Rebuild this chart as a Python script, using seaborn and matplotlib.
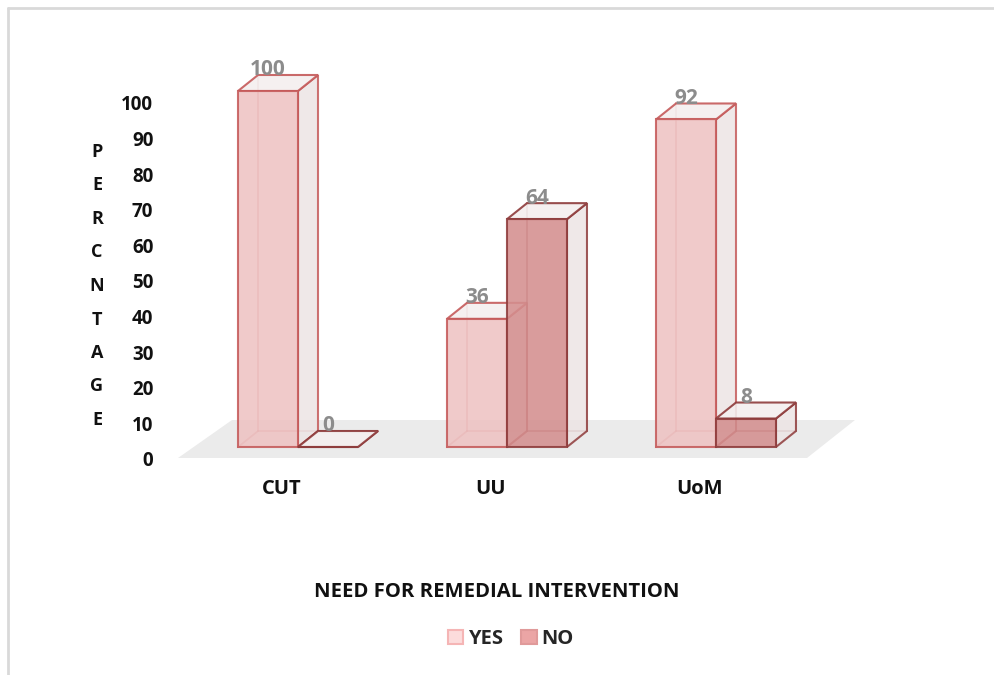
import matplotlib
matplotlib.use("Agg")
import matplotlib.pyplot as plt
from matplotlib.patches import Polygon, Rectangle
from matplotlib.lines import Line2D
from matplotlib.transforms import ScaledTranslation
import seaborn as sns
import pandas as pd

# ---- data -------------------------------------------------------------
universities = ["CUT", "UU", "UoM"]
responses = ["YES", "NO"]
yes_pct = [100, 36, 92]
no_pct = [0, 64, 8]
y_ticks = [0, 10, 20, 30, 40, 50, 60, 70, 80, 90, 100]

df = pd.DataFrame({
    "University": universities * 2,
    "Response": [responses[0]] * 3 + [responses[1]] * 3,
    "Percent": yes_pct + no_pct,
})

# ---- style ------------------------------------------------------------
sns.set_theme(style="white")
plt.rcParams["font.family"] = ["Open Sans", "DejaVu Sans"]

front = {"YES": "#EEC3C3", "NO": "#D48F8F"}
edge = {"YES": "#C55A5A", "NO": "#8E3B3B"}
side_col = "#EDE4E4"
top_col = "#F4EFEF"
legend_face = {"YES": "#FCDCDC", "NO": "#EBA5A5"}
legend_edge = {"YES": "#F5B5B5", "NO": "#E09A9A"}
text_col = "#111111"

W, H = 995, 675
fig = plt.figure(figsize=(W / 100, H / 100), dpi=100)
fig.patch.set_facecolor("white")

# axes box in pixels
ax_l, ax_r, ax_t, ax_b = 170, 870, 40, 470
ax = fig.add_axes([ax_l / W, 1 - ax_b / H, (ax_r - ax_l) / W, (ax_b - ax_t) / H])

sns.barplot(data=df, x="University", y="Percent", hue="Response",
            order=universities, hue_order=responses,
            palette=front, width=0.574, dodge=True, ax=ax,
            legend=False, saturation=1)

# pixel scale: group spacing 209 px, 100 % = 356 px
px_x = 209.0
px_y = 3.56
x0_pix, y0_pix = 298, 447
ax.set_xlim(-(x0_pix - ax_l) / px_x, (ax_r - x0_pix) / px_x)
ax.set_ylim(-(ax_b - y0_pix) / px_y, (y0_pix - ax_t) / px_y)

# depth of the 3-D boxes in data units
dx = 20 / px_x
dy = 16 / px_y

# floor slab
fy0 = -(458 - y0_pix) / px_y
fy1 = (y0_pix - 420) / px_y
floor = Polygon([(-(x0_pix - 178) / px_x, fy0), ((807 - x0_pix) / px_x, fy0),
                 ((855 - x0_pix) / px_x, fy1), (-(x0_pix - 232) / px_x, fy1)],
                closed=True, facecolor="#EBEBEB", edgecolor="none", zorder=0.5)
ax.add_patch(floor)

# extrude every bar into a box
yes_rgba = matplotlib.colors.to_rgba(front["YES"])
bars = sorted([p for p in ax.patches if isinstance(p, Rectangle)],
              key=lambda p: p.get_x())
for k, bar in enumerate(bars):
    is_yes = abs(bar.get_facecolor()[1] - yes_rgba[1]) < 0.03
    ec = edge["YES"] if is_yes else edge["NO"]
    x0 = bar.get_x()
    x1 = x0 + bar.get_width()
    y0 = 0
    y1 = bar.get_height()
    z = 2 + k * 0.1
    # hidden edges (seen through the translucent faces)
    for (xa, ya), (xb, yb) in [((x0 + dx, y0 + dy), (x0 + dx, y1 + dy)),
                                ((x0 + dx, y0 + dy), (x1 + dx, y0 + dy)),
                                ((x0, y0), (x0 + dx, y0 + dy))]:
        ax.add_line(Line2D([xa, xb], [ya, yb], color=ec, lw=1.3, alpha=0.6, zorder=z))
    # side face
    ax.add_patch(Polygon([(x1, y0), (x1 + dx, y0 + dy), (x1 + dx, y1 + dy), (x1, y1)],
                         closed=True, facecolor=side_col, edgecolor=ec, lw=1.5,
                         alpha=0.85, zorder=z + 0.01))
    # top face
    ax.add_patch(Polygon([(x0, y1), (x0 + dx, y1 + dy), (x1 + dx, y1 + dy), (x1, y1)],
                         closed=True, facecolor=top_col, edgecolor=ec, lw=1.5,
                         alpha=0.9, zorder=z + 0.02))
    # front face
    bar.set_alpha(0.88)
    bar.set_edgecolor(ec)
    bar.set_linewidth(1.5)
    bar.set_zorder(z + 0.03)
    # value label
    ax.text(x0 + bar.get_width() / 2, y1 + dy - 1.5, f"{int(round(y1))}",
            ha="center", va="bottom", fontsize=15, fontweight="bold",
            color="#8C8C8C", zorder=10)

# axes decorations
for s in ax.spines.values():
    s.set_visible(False)
ax.set_xlabel("")
ax.set_ylabel("")
ax.set_yticks(y_ticks)
ax.set_yticklabels([str(t) for t in y_ticks], fontsize=13.5, fontweight="bold", color=text_col)
ax.tick_params(axis="y", length=0, pad=12)
ax.set_xticks([i - 16 / px_x for i in range(len(universities))])
ax.set_xticklabels(universities, fontsize=14.5, fontweight="bold", color=text_col)
ax.tick_params(axis="x", length=0, pad=0)
for lab in ax.get_yticklabels():
    lab.set_transform(lab.get_transform() + ScaledTranslation(0, -12 / 100, fig.dpi_scale_trans))
for lab in ax.get_xticklabels():
    lab.set_transform(lab.get_transform() + ScaledTranslation(0, -9 / 100, fig.dpi_scale_trans))
ax.grid(False)
ax.set_facecolor("none")

# stacked vertical axis title
y_title = "PERCNTAGE"
for i, ch in enumerate(y_title):
    fig.text(97 / W, 1 - (152 + i * 33.5) / H, ch, ha="center", va="center",
             fontsize=13, fontweight="bold", color=text_col)

# horizontal axis title
fig.text(497 / W, 1 - 592 / H, "NEED FOR REMEDIAL INTERVENTION", ha="center",
         va="center", fontsize=14.6, fontweight="bold", color=text_col)

# legend
handles = [Rectangle((0, 0), 1, 1, facecolor=legend_face[r], edgecolor=legend_edge[r], lw=1.5)
           for r in responses]
fig.legend(handles, responses, loc="center", bbox_to_anchor=(511 / W, 1 - 639 / H),
           ncol=2, frameon=False, handlelength=0.75, handleheight=0.75,
           handletextpad=0.25, columnspacing=0.9,
           prop={"weight": "bold", "size": 14.5})

# outer frame (top and left edges)
fig.add_artist(Line2D([8 / W, 1], [1 - 8 / H, 1 - 8 / H], transform=fig.transFigure,
                      color="#D9D9D9", lw=2))
fig.add_artist(Line2D([8 / W, 8 / W], [0, 1 - 8 / H], transform=fig.transFigure,
                      color="#D9D9D9", lw=2))

fig.savefig("out.png", dpi=100, facecolor="white")
